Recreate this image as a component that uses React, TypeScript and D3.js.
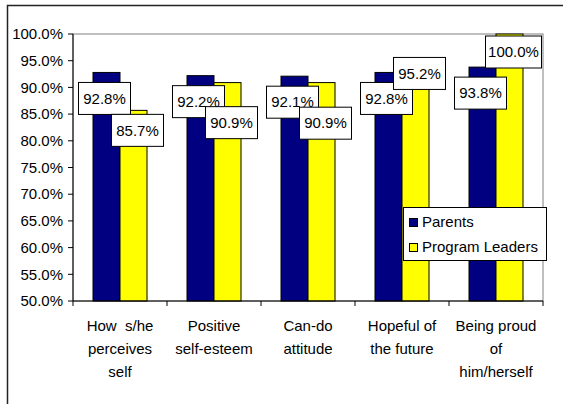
import * as d3 from 'd3';

const categories = [
  ['How  s/he', 'perceives', 'self'],
  ['Positive', 'self-esteem'],
  ['Can-do', 'attitude'],
  ['Hopeful of', 'the future'],
  ['Being proud', 'of', 'him/herself'],
];
const seriesNames = ['Parents', 'Program Leaders'];
const parents = [0.928, 0.922, 0.921, 0.928, 0.938];
const leaders = [0.857, 0.909, 0.909, 0.952, 1.0];
const yTicks = [0.5, 0.55, 0.6, 0.65, 0.7, 0.75, 0.8, 0.85, 0.9, 0.95, 1.0];

const colors = ['#000080', '#FFFF00'];
const FONT = '"Liberation Sans", Arial, sans-serif';

const W = 563;
const H = 404;
const plot = { left: 73, right: 543, top: 34, bottom: 301 };

export default function App() {
  const x0 = d3
    .scaleBand<number>()
    .domain(d3.range(categories.length))
    .range([plot.left, plot.right]);
  const pairWidth = 54;
  const x1 = d3
    .scaleBand<number>()
    .domain([0, 1])
    .range([-pairWidth / 2, pairWidth / 2]);
  const y = d3.scaleLinear().domain([0.5, 1]).range([plot.bottom, plot.top]);
  const fmt = d3.format('.1%');

  const series = [parents, leaders];
  const boxW = 52;
  const boxH = 32;

  // label layout: parents label sits inside bar top, leaders label avoids it
  const labels = categories.map((_, i) => {
    const cx = x0(i)! + x0.bandwidth() / 2;
    const bx = cx + x1(0)! + x1.bandwidth() / 2 - 2;
    const by = y(parents[i]) + 26;
    const lx = cx + x1(1)! + x1.bandwidth() / 2 + 4;
    let ly;
    if (leaders[i] > parents[i]) ly = Math.min(y(leaders[i]) + 18, by - 25);
    else ly = Math.max(y(leaders[i]) + 20, by + 21);
    return [
      { x: bx, y: by, text: fmt(parents[i]) },
      { x: lx, y: ly, text: fmt(leaders[i]) },
    ];
  });

  return (
    <svg
      width={W}
      height={H}
      style={{ position: 'fixed', left: 0, top: 0, background: '#fff' }}
      fontFamily={FONT}
    >
      <rect x={7.5} y={5.5} width={620} height={500} fill="#fff" stroke="#222" strokeWidth={1.5} />

      {/* plot area border */}
      <rect
        x={plot.left}
        y={plot.top}
        width={plot.right - plot.left}
        height={plot.bottom - plot.top}
        fill="#fff"
        stroke="#808080"
        strokeWidth={1}
      />

      {/* bars */}
      {categories.map((_, i) => (
        <g key={i} transform={`translate(${x0(i)! + x0.bandwidth() / 2},0)`}>
          {series.map((vals, s) => (
            <rect
              key={s}
              x={x1(s)!}
              y={y(vals[i])}
              width={x1.bandwidth()}
              height={plot.bottom - y(vals[i])}
              fill={colors[s]}
              stroke="#000"
              strokeWidth={1}
            />
          ))}
        </g>
      ))}

      {/* axes */}
      <line x1={plot.left} x2={plot.left} y1={plot.top} y2={plot.bottom} stroke="#000" />
      <line x1={plot.left} x2={plot.right} y1={plot.bottom} y2={plot.bottom} stroke="#000" />
      {yTicks.map((t) => (
        <g key={t}>
          <line x1={plot.left - 5} x2={plot.left} y1={y(t)} y2={y(t)} stroke="#000" />
          <text x={plot.left - 10} y={y(t)} dy="0.35em" textAnchor="end" fontSize={15} fill="#000">
            {fmt(t)}
          </text>
        </g>
      ))}
      {d3.range(categories.length + 1).map((k) => {
        const xx = k < categories.length ? x0(k)! : plot.right;
        return <line key={k} x1={xx} x2={xx} y1={plot.bottom} y2={plot.bottom + 5} stroke="#000" />;
      })}
      {categories.map((lines, i) => (
        <text
          key={i}
          x={x0(i)! + x0.bandwidth() / 2}
          y={326}
          textAnchor="middle"
          fontSize={15}
          fill="#000"
          style={{ whiteSpace: 'pre' }}
        >
          {lines.map((ln, j) => (
            <tspan key={j} x={x0(i)! + x0.bandwidth() / 2} y={326 + j * 23} dy="0.35em">
              {ln}
            </tspan>
          ))}
        </text>
      ))}

      {/* data labels */}
      {labels.flat().map((l, k) => {
        const w = l.text.length > 5 ? boxW + 4 : boxW;
        return (
          <g key={k}>
            <rect
              x={l.x - w / 2}
              y={l.y - boxH / 2}
              width={w}
              height={boxH}
              fill="#fff"
              stroke="#000"
              strokeWidth={1}
            />
            <text x={l.x} y={l.y} dy="0.35em" textAnchor="middle" fontSize={15} fill="#000">
              {l.text}
            </text>
          </g>
        );
      })}

      {/* legend */}
      <g transform="translate(403,207)">
        <rect x={0.5} y={0.5} width={143} height={53} fill="#fff" stroke="#000" />
        {seriesNames.map((name, s) => (
          <g key={name} transform={`translate(0,${15 + s * 25})`}>
            <rect x={6.5} y={-3.5} width={8} height={8} fill={colors[s]} stroke="#000" />
            <text x={19} y={0} dy="0.35em" fontSize={15} fill="#000">
              {name}
            </text>
          </g>
        ))}
      </g>
    </svg>
  );
}
